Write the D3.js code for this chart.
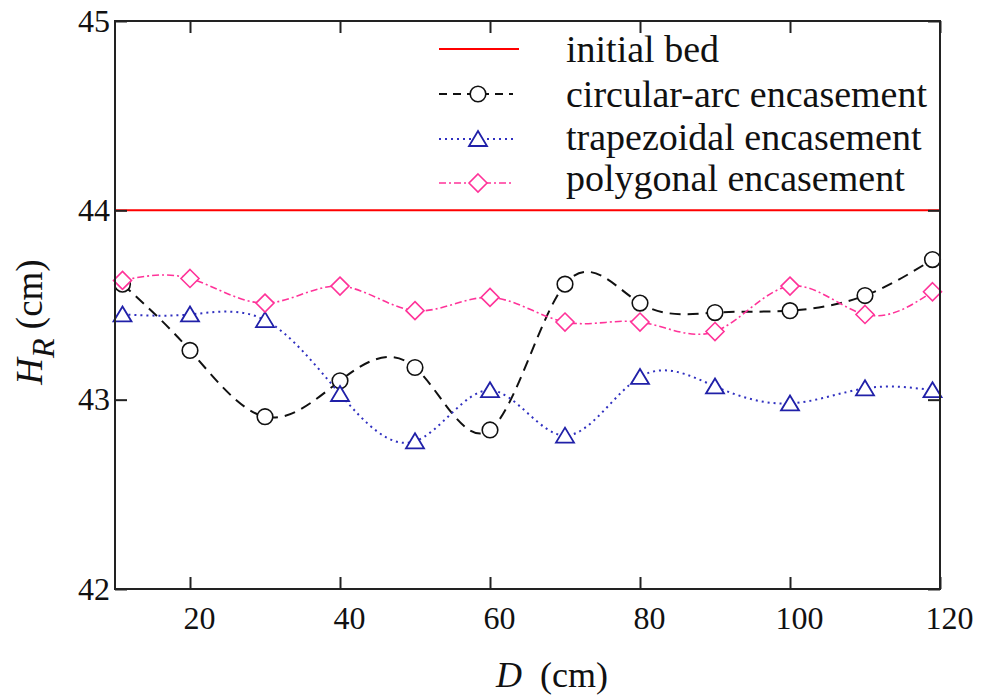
<!DOCTYPE html>
<html>
<head>
<meta charset="utf-8">
<script src="https://cdn.jsdelivr.net/npm/d3@7.9.0/dist/d3.min.js"></script>
<style>
  body { margin: 0; background: #fff; }
  svg { display: block; }
  .axis path { display: none; }
  .axis line { stroke: #222; stroke-width: 2; }
</style>
</head>
<body>
<svg id="chart" width="993" height="696" font-family="Liberation Serif"></svg>
<script>
// distance along the channel (cm)
const dValues = [11, 20, 30, 40, 50, 60, 70, 80, 90, 100, 110, 119];
// bed level H_R (cm) for each encasement
const circular = [43.61, 43.26, 42.91, 43.10, 43.17, 42.84, 43.61, 43.51, 43.46, 43.47, 43.55, 43.74];
const trapezoidal = [43.45, 43.45, 43.42, 43.03, 42.78, 43.05, 42.81, 43.12, 43.07, 42.98, 43.06, 43.05];
const polygonal = [43.63, 43.64, 43.51, 43.60, 43.47, 43.54, 43.41, 43.41, 43.36, 43.60, 43.45, 43.57];
const initialBed = 44;

const xTicks = [20, 40, 60, 80, 100, 120];
const yTicks = [42, 43, 44, 45];
const legendLabels = ["initial bed", "circular-arc encasement", "trapezoidal encasement", "polygonal encasement"];

const serif = 'Liberation Serif';
const margin = { left: 115, top: 21, right: 940, bottom: 589 };

const svg = d3.select('#chart');

const x = d3.scaleLinear().domain([10, 120]).range([margin.left, margin.right]);
const y = d3.scaleLinear().domain([42, 45]).range([margin.bottom, margin.top]);

// series styles
const series = [
  { name: legendLabels[1], values: circular, color: '#111', dash: '11,7', width: 2, marker: 'circle' },
  { name: legendLabels[2], values: trapezoidal, color: '#3030c0', dash: '2,4', width: 2, marker: 'triangle' },
  { name: legendLabels[3], values: polygonal, color: '#ff3399', dash: '7,3,2,3', width: 1.6, marker: 'diamond' }
];

// marker shapes relative to the centre
function drawMarker(g, type, cx, cy, color) {
  if (type === 'circle') {
    g.append('circle').attr('cx', cx).attr('cy', cy).attr('r', 7.8)
      .attr('fill', '#fff').attr('stroke', color).attr('stroke-width', 1.6);
  } else if (type === 'triangle') {
    g.append('path').attr('transform', `translate(${cx},${cy})`)
      .attr('d', 'M0,-8L9,7L-9,7Z')
      .attr('fill', '#fff').attr('stroke', '#2020a8').attr('stroke-width', 1.8);
  } else {
    g.append('path').attr('transform', `translate(${cx},${cy})`)
      .attr('d', 'M0,-9L9,0L0,9L-9,0Z')
      .attr('fill', '#fff').attr('stroke', color).attr('stroke-width', 1.6);
  }
}

// initial bed line
svg.append('line')
  .attr('x1', x(10)).attr('x2', x(120))
  .attr('y1', y(initialBed)).attr('y2', y(initialBed))
  .attr('stroke', '#ff0000').attr('stroke-width', 2);

// curves and markers
const line = d3.line()
  .x((d, i) => x(dValues[i]))
  .y(d => y(d))
  .curve(d3.curveNatural);

series.forEach(s => {
  const g = svg.append('g');
  g.append('path')
    .attr('d', line(s.values))
    .attr('fill', 'none')
    .attr('stroke', s.color)
    .attr('stroke-width', s.width)
    .attr('stroke-dasharray', s.dash);
  s.values.forEach((v, i) => drawMarker(g, s.marker, x(dValues[i]), y(v), s.color));
});

// frame
svg.append('rect')
  .attr('x', margin.left).attr('y', margin.top)
  .attr('width', margin.right - margin.left).attr('height', margin.bottom - margin.top)
  .attr('fill', 'none').attr('stroke', '#222').attr('stroke-width', 2);

// axes with inward ticks
function styleAxis(g) {
  g.attr('font-family', serif).attr('font-size', 32);
  g.selectAll('text').attr('font-family', serif).attr('font-size', 32).attr('fill', '#111');
}

svg.append('g').attr('class', 'axis')
  .attr('transform', `translate(0,${margin.bottom})`)
  .call(d3.axisBottom(x).tickValues(xTicks).tickFormat(d3.format('d'))
    .tickSizeInner(-12).tickSizeOuter(0).tickPadding(17))
  .call(styleAxis)
  .selectAll('text').attr('dx', 9);

svg.append('g').attr('class', 'axis')
  .attr('transform', `translate(0,${margin.top})`)
  .call(d3.axisTop(x).tickValues(xTicks).tickSizeInner(-12).tickSizeOuter(0).tickFormat(''));

svg.append('g').attr('class', 'axis')
  .attr('transform', `translate(${margin.left},0)`)
  .call(d3.axisLeft(y).tickValues(yTicks).tickFormat(d3.format('d'))
    .tickSizeInner(-12).tickSizeOuter(0).tickPadding(5))
  .call(styleAxis);

svg.append('g').attr('class', 'axis')
  .attr('transform', `translate(${margin.right},0)`)
  .call(d3.axisRight(y).tickValues(yTicks).tickSizeInner(-12).tickSizeOuter(0).tickFormat(''));

// axis titles
svg.append('text')
  .attr('x', 552).attr('y', 687)
  .attr('text-anchor', 'middle')
  .attr('font-family', serif)
  .attr('font-size', 36)
  .attr('fill', '#111')
  .call(t => {
    t.append('tspan').attr('font-style', 'italic').text('D');
    t.append('tspan').text('\u00a0 (cm)');
  });

svg.append('text')
  .attr('transform', 'translate(42,322) rotate(-90)')
  .attr('text-anchor', 'middle')
  .attr('font-family', serif)
  .attr('font-size', 37)
  .attr('fill', '#111')
  .call(t => {
    t.append('tspan').attr('font-style', 'italic').text('H');
    t.append('tspan').attr('font-style', 'italic').attr('font-size', 32).attr('dy', 12).text('R');
    t.append('tspan').attr('dy', -12).text('\u00a0(cm)');
  });

// legend
const legend = svg.append('g');
const legendY = [49, 94, 139, 183];
const legendBase = [62, 107, 150, 191];
const lx1 = 439, lx2 = 519, lmx = 478;

legend.append('line')
  .attr('x1', lx1).attr('x2', lx2).attr('y1', legendY[0]).attr('y2', legendY[0])
  .attr('stroke', '#ff0000').attr('stroke-width', 2);

series.forEach((s, i) => {
  legend.append('line')
    .attr('x1', lx1).attr('x2', lx2 - 6).attr('y1', legendY[i + 1]).attr('y2', legendY[i + 1])
    .attr('stroke', s.color).attr('stroke-width', s.width)
    .attr('stroke-dasharray', s.marker === 'circle' ? '8,6' : s.dash);
  drawMarker(legend, s.marker, lmx, legendY[i + 1], s.color);
});

legendLabels.forEach((lab, i) => {
  legend.append('text')
    .attr('x', 566).attr('y', legendBase[i])
    .attr('font-family', serif)
    .attr('font-size', 38)
    .attr('fill', '#111')
    .text(lab);
});
</script>
</body>
</html>
